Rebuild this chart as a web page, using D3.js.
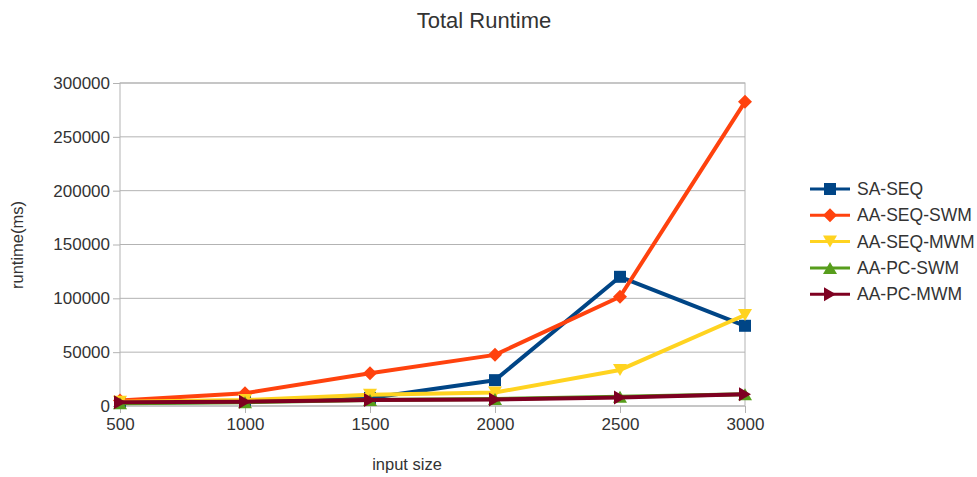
<!DOCTYPE html>
<html>
<head>
<meta charset="utf-8">
<script src="https://cdn.jsdelivr.net/npm/d3@7"></script>
<style>
  body { margin: 0; background: #fff; }
  svg { display: block; font-family: "Liberation Sans", Arial, sans-serif; }
</style>
</head>
<body>
<svg id="chart" width="977" height="477"></svg>
<script>
const inputSizes = [500, 1000, 1500, 2000, 2500, 3000];
const yTicks = [0, 50000, 100000, 150000, 200000, 250000, 300000];
const seriesNames = ["SA-SEQ", "AA-SEQ-SWM", "AA-SEQ-MWM", "AA-PC-SWM", "AA-PC-MWM"];
const saSeq = [3000, 4000, 7500, 24000, 120000, 74500];
const aaSeqSwm = [5000, 11800, 30500, 47500, 101500, 282500];
const aaSeqMwm = [4000, 5500, 10500, 12500, 33500, 84500];
const aaPcSwm = [2500, 3500, 5500, 6500, 8500, 11000];
const aaPcMwm = [3500, 4000, 5500, 6000, 8000, 11000];
const seriesColors = ["#004586", "#ff420e", "#ffd320", "#579d1c", "#7e0021"];
const seriesShapes = ["square", "diamond", "down", "up", "right"];

const seriesValues = [saSeq, aaSeqSwm, aaSeqMwm, aaPcSwm, aaPcMwm];
const series = seriesNames.map((name, i) => ({
  name, color: seriesColors[i], shape: seriesShapes[i],
  points: inputSizes.map((x, j) => ({ x, y: seriesValues[i][j] }))
}));

const svg = d3.select("#chart");
const margin = { left: 120, right: 232, top: 83, bottom: 71 };
const W = 977, H = 477;

const x = d3.scalePoint().domain(inputSizes).range([margin.left, W - margin.right]);
const y = d3.scaleLinear().domain([0, 300000]).range([H - margin.bottom, margin.top]);

// horizontal grid lines
svg.append("g").selectAll("line").data(yTicks).join("line")
  .attr("x1", margin.left).attr("x2", W - margin.right)
  .attr("y1", d => y(d)).attr("y2", d => y(d))
  .attr("stroke", "#b3b3b3").attr("stroke-width", 1);

// plot frame
svg.append("rect")
  .attr("x", margin.left).attr("y", margin.top)
  .attr("width", W - margin.right - margin.left)
  .attr("height", H - margin.bottom - margin.top)
  .attr("fill", "none").attr("stroke", "#b3b3b3");

// axes
const yAxis = svg.append("g").attr("transform", `translate(${margin.left},0)`)
  .call(d3.axisLeft(y).tickValues(yTicks).tickFormat(d3.format("d")).tickSize(7).tickPadding(3));
const xAxis = svg.append("g").attr("transform", `translate(0,${H - margin.bottom})`)
  .call(d3.axisBottom(x).tickSize(7).tickPadding(5));
[yAxis, xAxis].forEach(a => {
  a.select(".domain").remove();
  a.selectAll(".tick line").attr("stroke", "#b3b3b3");
  a.selectAll(".tick text").attr("fill", "#333").style("font-size", "17px")
    .style("font-family", "'Liberation Sans', Arial, sans-serif");
});

// marker shapes
const sz = 6;
function markerPath(shape) {
  switch (shape) {
    case "square": return `M${-sz},${-sz}H${sz}V${sz}H${-sz}Z`;
    case "diamond": return `M0,${-sz - 1}L${sz + 1},0L0,${sz + 1}L${-sz - 1},0Z`;
    case "down": return `M${-sz - 1},${-sz}L${sz + 1},${-sz}L0,${sz}Z`;
    case "up": return `M${-sz - 1},${sz}L${sz + 1},${sz}L0,${-sz}Z`;
    case "right": return `M${-sz},${-sz - 1}L${sz},0L${-sz},${sz + 1}Z`;
  }
}

const line = d3.line().x(d => x(d.x)).y(d => y(d.y));
const g = svg.append("g").selectAll("g").data(series).join("g");
g.append("path")
  .attr("d", d => line(d.points))
  .attr("fill", "none").attr("stroke", d => d.color)
  .attr("stroke-width", 4).attr("stroke-linejoin", "round");
g.each(function (s) {
  d3.select(this).selectAll("path.m").data(s.points).join("path")
    .attr("class", "m")
    .attr("transform", d => `translate(${x(d.x)},${y(d.y)})`)
    .attr("d", markerPath(s.shape))
    .attr("fill", s.color);
});

// title and axis titles
svg.append("text").attr("x", 484).attr("y", 28).attr("text-anchor", "middle")
  .style("font-size", "22px").attr("fill", "#333").text("Total Runtime");
svg.append("text").attr("transform", "translate(23,245) rotate(-90)")
  .attr("text-anchor", "middle").style("font-size", "16.5px").attr("fill", "#333").text("runtime(ms)");
svg.append("text").attr("x", 407).attr("y", 470).attr("text-anchor", "middle")
  .style("font-size", "16.5px").attr("fill", "#333").text("input size");

// legend
const lg = svg.append("g").selectAll("g").data(series).join("g")
  .attr("transform", (d, i) => `translate(810,${189 + i * 26.3})`);
lg.append("line").attr("x1", 0).attr("x2", 40).attr("y1", 0).attr("y2", 0)
  .attr("stroke", d => d.color).attr("stroke-width", 3);
lg.append("path").attr("transform", "translate(20,0)")
  .attr("d", d => markerPath(d.shape)).attr("fill", d => d.color);
lg.append("text").attr("x", 47).attr("y", 6)
  .style("font-size", "17.5px").attr("fill", "#333").text(d => d.name);
</script>
</body>
</html>
